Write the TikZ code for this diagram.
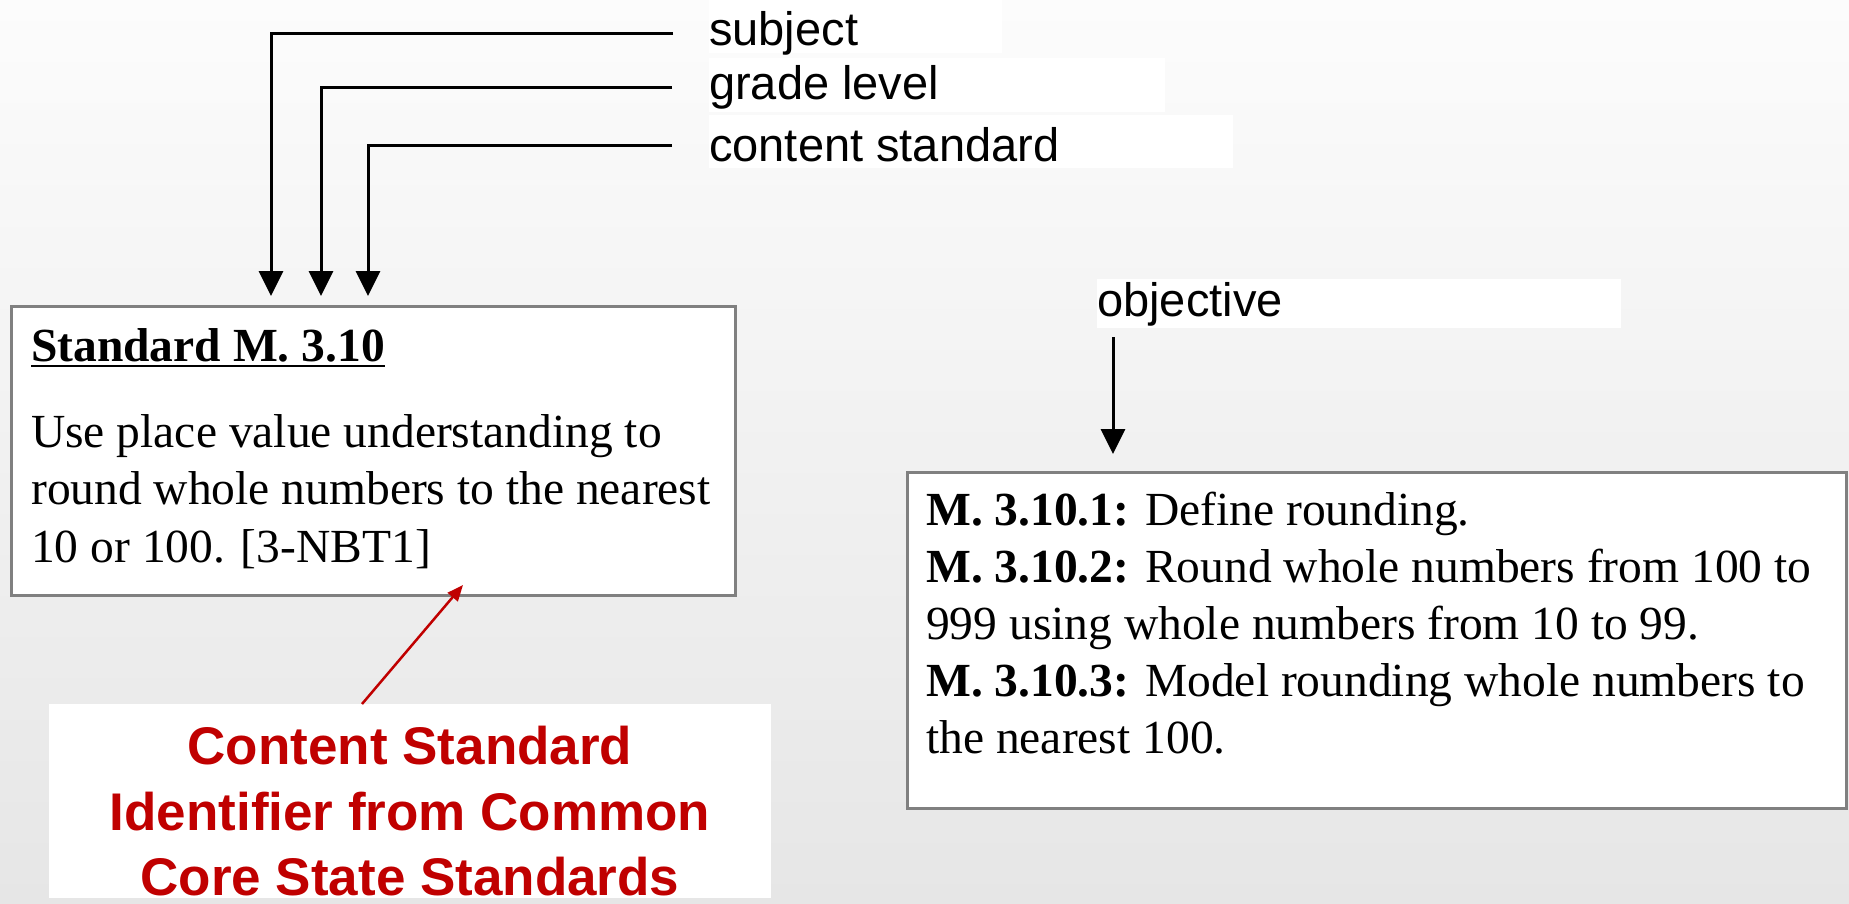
\documentclass[tikz,border=0pt]{standalone}
\usepackage{fontspec}
\setmainfont{Liberation Serif}
\newfontfamily\arialfont{Liberation Sans}
\usetikzlibrary{arrows.meta}
\definecolor{boxgray}{HTML}{808080}
\definecolor{labred}{HTML}{C00000}
\definecolor{bgtop}{HTML}{FCFCFC}
\definecolor{bgmid}{HTML}{F4F4F4}
\definecolor{bgbot}{HTML}{E6E6E6}
\tikzset{
  frame/.style={draw=boxgray, line width=3pt, fill=white, inner sep=0pt, anchor=north west},
  sanslab/.style={inner sep=0pt, anchor=base west, font=\arialfont\fontsize{47}{56}\selectfont},
  serifline/.style={inner sep=0pt, anchor=base west, font=\fontsize{47.5}{57}\selectfont},
  seriftitle/.style={inner sep=0pt, anchor=base west, font=\fontsize{47.5}{57}\selectfont\bfseries},
  redlab/.style={inner sep=0pt, anchor=base, text=labred, font=\arialfont\bfseries\fontsize{53}{65}\selectfont},
  conn/.style={line width=3pt, -{Triangle[width=24pt,length=25pt]}},
  redconn/.style={draw=labred, line width=2.5pt, -{Triangle[width=13pt,length=16pt]}},
}
\begin{document}
\begin{tikzpicture}[x=1pt,y=-1pt]
\useasboundingbox (0,0) rectangle (1849,904);
% page background
\shade[top color=bgtop, middle color=bgmid, bottom color=bgbot] (0,0) rectangle (1849,904);

% label backgrounds
\fill[white] (709,0) rectangle (1002,53);
\fill[white] (709,58) rectangle (1165,112);
\fill[white] (709,115) rectangle (1233,168);
\fill[white] (1097,279) rectangle (1621,328);

% part labels
\node[sanslab] (subj) at (709,46) {subject};
\node[sanslab] (grade) at (709,100) {grade level};
\node[sanslab] (cstd) at (709,162) {content standard};
\node[sanslab] (obj) at (1097,316) {objective};

% standard box
\node[frame, minimum width=724, minimum height=289] (std) at (10,305) {};
\node[seriftitle] (stdtitle) at (31,361) {Standard M. 3.10};
\draw[line width=2.5pt] ([yshift=-5pt]stdtitle.base west) -- ([yshift=-5pt]stdtitle.base east);
\node[serifline] (stdl1) at (31,447) {Use place value understanding to};
\node[serifline] (stdl2) at (31,504) {round whole numbers to the nearest};
\node[serifline] (stdl3) at (31,562) {10 or 100. [3-NBT1]};

% objectives box
\node[frame, minimum width=939, minimum height=336] (objbox) at (906,471) {};
\node[serifline] (ob1) at (926,525) {\textbf{M. 3.10.1:} Define rounding.};
\node[serifline] (ob2) at (926,582) {\textbf{M. 3.10.2:} Round whole numbers from 100 to};
\node[serifline] (ob3) at (926,639) {999 using whole numbers from 10 to 99.};
\node[serifline] (ob4) at (926,696) {\textbf{M. 3.10.3:} Model rounding whole numbers to};
\node[serifline] (ob5) at (926,753) {the nearest 100.};

% connectors from the labels
\coordinate (subjEnd) at (673,34);
\coordinate (gradeEnd) at (672,88);
\coordinate (cstdEnd) at (672,146);
\coordinate (objEnd) at (1113,337);
\draw[conn, shorten >=9pt] (subjEnd) -| (271,0 |- std.north);
\draw[conn, shorten >=9pt] (gradeEnd) -| (321,0 |- std.north);
\draw[conn, shorten >=9pt] (cstdEnd) -| (368,0 |- std.north);
\draw[conn, shorten >=17pt] (objEnd) -- (1113,0 |- objbox.north);

% red caption
\node[fill=white, inner sep=0pt, outer sep=0pt, minimum width=722, minimum height=194, anchor=north west] (cap) at (49,704) {};
\node[redlab] (cap1) at (410,764) {Content Standard};
\node[redlab] (cap2) at (410,830) {Identifier from Common};
\node[redlab] (cap3) at (410,895) {Core State Standards};
\coordinate (capTip) at (463,585);
\draw[redconn] (362,0 |- cap.north) -- (capTip);
\end{tikzpicture}
\end{document}
